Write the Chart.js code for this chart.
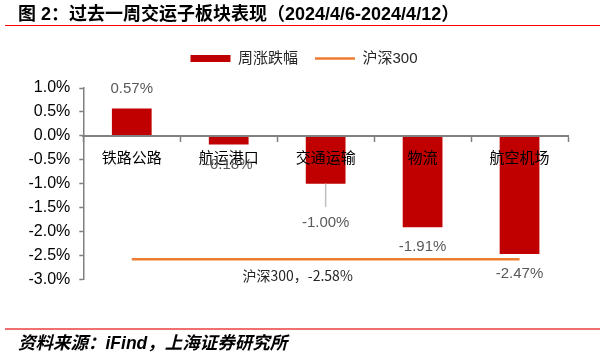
<!DOCTYPE html>
<html>
<head>
<meta charset="utf-8">
<script src="https://cdn.jsdelivr.net/npm/chart.js@4/dist/chart.umd.min.js"></script>
<style>
html,body{margin:0;padding:0;background:#fff;}
#wrap{position:relative;width:607px;height:356px;overflow:hidden;background:#fff;}
#title{position:absolute;left:18px;top:4px;font-weight:bold;font-size:18px;font-family:"Liberation Sans","Noto Sans CJK SC",sans-serif;color:#000;white-space:nowrap;line-height:20px;}
#tline{position:absolute;left:5px;top:25px;width:595px;height:0;border-top:1.5px solid #ff0000;}
#fline{position:absolute;left:5px;top:328px;width:595px;height:0;border-top:2px solid #f07070;}
#foot{position:absolute;left:18px;top:333px;font-weight:bold;font-style:italic;font-size:17.5px;font-family:"Liberation Sans","Noto Sans CJK SC",sans-serif;color:#000;white-space:nowrap;line-height:20px;}
canvas{position:absolute;left:0;top:0;}
</style>
</head>
<body>
<div id="wrap">
  <canvas id="c" width="607" height="356"></canvas>
  <div id="title">图 2：过去一周交运子板块表现（2024/4/6-2024/4/12）</div>
  <div id="tline"></div>
  <div id="fline"></div>
  <div id="foot">资料来源：iFind，上海证券研究所</div>
</div>
<script>
const categories = ['铁路公路', '航运港口', '交通运输', '物流', '航空机场'];
const weeklyChange = [0.57, -0.18, -1.00, -1.91, -2.47];
const hs300 = [-2.58, -2.58, -2.58, -2.58, -2.58];
const seriesNames = ['周涨跌幅', '沪深300'];
const yMin = -3.0, yMax = 1.0, yStep = 0.5;

const valueLabels = {
  id: 'valueLabels',
  afterLayout(chart, args, opts) {
    const lg = chart.legend;
    if (lg) { lg.left += opts.legendShift; lg.right += opts.legendShift; }
  },
  afterDraw(chart, args, opts) {
    const ctx = chart.ctx;
    const meta = chart.getDatasetMeta(0);
    ctx.save();
    ctx.font = '15px "Liberation Sans", sans-serif';
    ctx.textAlign = 'center';
    ctx.textBaseline = 'middle';
    meta.data.forEach((bar, i) => {
      const v = weeklyChange[i];
      const shift = opts.shift[i] || 0;
      const gap = opts.gap + shift;
      if (shift) {
        ctx.strokeStyle = '#bfbfbf';
        ctx.lineWidth = 1.5;
        ctx.beginPath();
        ctx.moveTo(bar.x, bar.y);
        ctx.lineTo(bar.x, bar.y + gap - 16);
        ctx.stroke();
      }
      const y = v >= 0 ? bar.y - gap : bar.y + gap;
      ctx.fillStyle = '#595959';
      ctx.fillText(v.toFixed(2) + '%', bar.x, y);
    });
    const lm = chart.getDatasetMeta(1);
    const p = lm.data[2];
    if (p) {
      ctx.fillStyle = '#262626';
      ctx.font = '14px "Noto Sans CJK SC", sans-serif';
      ctx.fillText(seriesNames[1] + '，' + hs300[2].toFixed(2) + '%', p.x - 28, p.y + 16);
    }
    ctx.restore();
  }
};

new Chart(document.getElementById('c'), {
  data: {
    labels: categories,
    datasets: [
      {
        type: 'bar',
        label: seriesNames[0],
        data: weeklyChange,
        xAxisID: 'x',
        yAxisID: 'y',
        backgroundColor: '#c00000',
        borderWidth: 0,
        barPercentage: 0.41,
        categoryPercentage: 1.0,
        pointStyle: 'rect'
      },
      {
        type: 'line',
        label: seriesNames[1],
        data: hs300,
        xAxisID: 'x',
        yAxisID: 'y',
        borderColor: '#ed7d31',
        backgroundColor: '#ed7d31',
        borderWidth: 2.5,
        pointRadius: 0,
        pointStyle: 'line',
        fill: false
      }
    ]
  },
  options: {
    responsive: false,
    animation: false,
    devicePixelRatio: 1,
    layout: { padding: { top: 34, left: 24, right: 39, bottom: 76.7 } },
    plugins: {
      legend: {
        position: 'top',
        labels: {
          usePointStyle: true,
          pointStyleWidth: 40,
          boxHeight: 7,
          padding: 17,
          color: '#262626',
          font: { size: 15, family: '"Liberation Sans", "Noto Sans CJK SC", sans-serif' }
        }
      },
      tooltip: { enabled: false },
      valueLabels: { gap: 20, shift: { 2: 19.4 }, legendShift: 8 }
    },
    scales: {
      gap: {
        type: 'linear',
        axis: 'x',
        position: 'top',
        display: true,
        afterFit(scale) { scale.height = 12; },
        grid: { display: false },
        border: { display: false },
        ticks: { display: false }
      },
      x: {
        type: 'category',
        position: { y: 0 },
        offset: true,
        grid: { offset: true, drawOnChartArea: false, tickLength: 5, color: '#808080', tickWidth: 1.5, z: 1 },
        border: { color: '#808080', width: 2, z: 1 },
        ticks: { color: '#000', padding: 7, z: 1, font: { size: 15, family: '"Noto Sans CJK SC", sans-serif' } }
      },
      y: {
        min: yMin,
        max: yMax,
        afterFit(scale) { scale.width = 59.3; },
        grid: { drawOnChartArea: false, tickLength: 4, color: '#808080', tickWidth: 1.5 },
        border: { color: '#808080', width: 1.5 },
        ticks: {
          stepSize: yStep,
          padding: 9,
          color: '#000',
          font: { size: 16, family: '"Liberation Sans", sans-serif' },
          callback: v => v.toFixed(1) + '%'
        }
      }
    }
  },
  plugins: [valueLabels]
});
</script>
</body>
</html>
